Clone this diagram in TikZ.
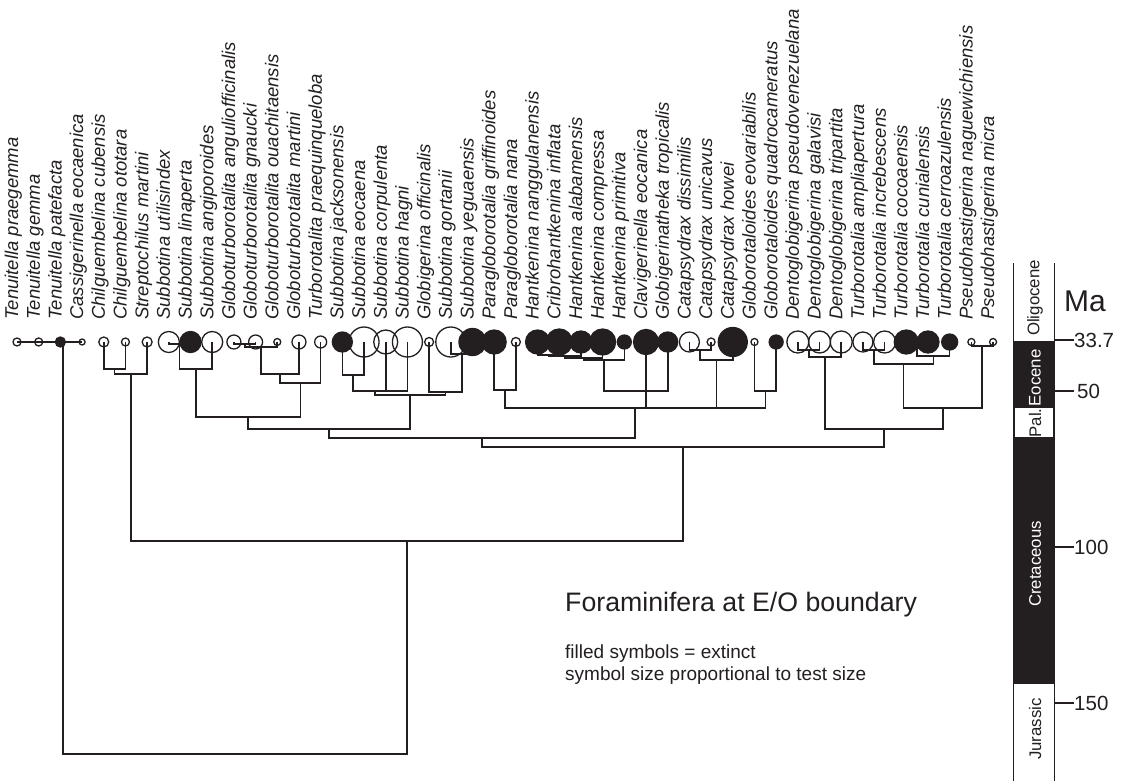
\documentclass[tikz,border=0pt]{standalone}
\usepackage{fontspec}
\setmainfont{Liberation Sans}
\definecolor{ink}{HTML}{231F20}
\begin{document}
\begin{tikzpicture}[x=1pt,y=-1pt,
  tree/.style={draw=ink,line width=1.6pt,line join=miter},
  sym/.style={circle,draw=ink,line width=1.3pt,inner sep=0pt},
  lab/.style={rotate=90,anchor=mid west,inner sep=0pt,text=ink,font=\fontsize{18.5}{20}\selectfont\itshape},
  tick/.style={draw=ink,line width=1.3pt},
  ticklab/.style={anchor=west,inner sep=0pt,text=ink,font=\fontsize{20.5}{22}\selectfont},
  era/.style={rotate=90,inner sep=0pt,font=\fontsize{16.8}{18}\selectfont},
  note/.style={anchor=west,inner sep=0pt,text=ink,font=\fontsize{19}{21}\selectfont}]
\useasboundingbox (0,0) rectangle (1132,781);
\fill[white] (0,0) rectangle (1132,781);

% species positions and labels
\foreach \nm [count=\i] in {Tenuitella praegemma,Tenuitella gemma,Tenuitella patefacta,Cassigerinella eocaenica,Chilguembelina cubensis,Chilguembelina ototara,Streptochilus martini,Subbotina utilisindex,Subbotina linaperta,Subbotina angiporoides,Globoturborotalita anguliofficinalis,Globoturborotalita gnaucki,Globoturborotalita ouachitaensis,Globoturborotalita martini,Turborotalita praequinqueloba,Subbotina jacksonensis,Subbotina eocaena,Subbotina corpulenta,Subbotina hagni,Globigerina officinalis,Subbotina gortanii,Subbotina yeguaensis,Paragloborotalia griffinoides,Paragloborotalia nana,Hantkenina nanggulanensis,Cribrohantkenina inflata,Hantkenina alabamensis,Hantkenina compressa,Hantkenina primitiva,Clavigerinella eocanica,Globigerinatheka tropicalis,Catapsydrax dissimilis,Catapsydrax unicavus,Catapsydrax howei,Globorotaloides eovariabilis,Globorotaloides quadrocameratus,Dentoglobigerina pseudovenezuelana,Dentoglobigerina galavisi,Dentoglobigerina tripartita,Turborotalia ampliapertura,Turborotalia increbescens,Turborotalia cocoaensis,Turborotalia cunialensis,Turborotalia cerroazulensis,Pseudohastigerina naguewichiensis,Pseudohastigerina micra}{
  \coordinate (s\i) at ({17+21.69*(\i-1)},342);
  \node[lab] (l\i) at ({15.5+21.69*(\i-1)},320) {\nm};
}

% tree
\coordinate (tg) at (63,342);
\draw[tree] (s1) -- (s4);
\coordinate (c1) at (114.6,369); \draw[tree] (s5) |- (c1) -| (s6);
\coordinate (c2) at (131,374);   \draw[tree] (c1) |- (c2) -| (s7);
\coordinate (a1) at (179.6,344); \draw[tree] (s8) |- (a1) -| (s9);
\coordinate (a2) at (196,369);   \draw[tree] (a1) |- (a2) -| (s10);
\coordinate (g1) at (244.8,344); \draw[tree] (s11) |- (g1) -| (s12);
\coordinate (g2) at (261,347);   \draw[tree] (g1) |- (g2) -| (s13);
\coordinate (g3) at (280,374);   \draw[tree] (g2) |- (g3) -| (s14);
\coordinate (g4) at (300.4,383); \draw[tree] (g3) |- (g4) -| (s15);
\coordinate (A) at (248.2,417);  \draw[tree] (a2) |- (A) -| (g4);
\coordinate (b1) at (353.2,375); \draw[tree] (s16) |- (b1) -| (s17);
\coordinate (b2) at (375,391);   \draw[tree] (b1) |- (b2) -| (s19); \draw[tree] (s18) -- (s18 |- b2);
\coordinate (b3a) at (461.7,354);\draw[tree] (s21) |- (b3a) -| (s22);
\coordinate (b3) at (445.4,392); \draw[tree] (s20) |- (b3) -| (b3a);
\coordinate (B) at (410.2,395);  \draw[tree] (b2) |- (B) -| (b3);
\coordinate (AB) at (329.2,429); \draw[tree] (A) |- (AB) -| (B);
\coordinate (p1) at (505,390);   \draw[tree] (s23) |- (p1) -| (s24);
\coordinate (h1) at (548.5,355); \draw[tree] (s25) |- (h1) -| (s26);
\coordinate (h2) at (564.7,356); \draw[tree] (h1) |- (h2) -| (s27);
\coordinate (h3) at (583.7,358); \draw[tree] (h2) |- (h3) -| (s28);
\coordinate (h4) at (604,360);   \draw[tree] (h3) |- (h4) -| (s29);
\coordinate (H) at (646,391);    \draw[tree] (h4) |- (H) -| (s31); \draw[tree] (s30) -- (H);
\coordinate (k1) at (700.2,350); \draw[tree] (s32) |- (k1) -| (s33);
\coordinate (k2) at (716.5,360); \draw[tree] (k1) |- (k2) -| (s34);
\coordinate (r1) at (765.4,391); \draw[tree] (s35) |- (r1) -| (s36);
\coordinate (P) at (635,408);    \draw[tree] (p1) |- (P) -| (r1); \draw[tree] (H) -- (H |- P); \draw[tree] (k2) -- (k2 |- P);
\coordinate (C) at (482.1,438);  \draw[tree] (AB) |- (C) -| (P);
\coordinate (d1) at (808.7,350); \draw[tree] (s37) |- (d1) -| (s38);
\coordinate (d2) at (825,357);   \draw[tree] (d1) |- (d2) -| (s39);
\coordinate (u1) at (873.8,350); \draw[tree] (s40) |- (u1) -| (s41);
\coordinate (u2) at (917.2,348); \draw[tree] (s42) |- (u2) -| (s43);
\coordinate (u3) at (933.4,356); \draw[tree] (u2) |- (u3) -| (s44);
\coordinate (u4) at (903.6,364); \draw[tree] (u1) |- (u4) -| (u3);
\coordinate (ps) at (982.2,346); \draw[tree] (s45) |- (ps) -| (s46);
\coordinate (u5) at (942.9,408); \draw[tree] (u4) |- (u5) -| (ps);
\coordinate (D1) at (884,429);   \draw[tree] (d2) |- (D1) -| (u5);
\coordinate (E) at (683,447);    \draw[tree] (C) |- (E) -| (D1);
\coordinate (F) at (407,541);    \draw[tree] (c2) |- (F) -| (E);
\coordinate (R) at (235,754);    \draw[tree] (tg) |- (R) -| (F);

% symbols
\foreach \r/\f [count=\i] in {4/none,4/none,5/ink,3/none,5/none,4/none,5/none,10.5/none,10.5/ink,10.5/none,7/none,7/none,3.5/none,7/none,6/none,10/ink,15/none,12/none,15/none,4.5/none,15/none,13.5/ink,12/ink,4.5/none,12/ink,13/ink,11/ink,13/ink,7/ink,12.5/ink,10/ink,10/none,4/none,14.5/ink,3.5/none,7/ink,11/none,11/none,11/none,10/none,11/none,12/ink,11/ink,8/ink,3.5/none,3.5/none}{
  \node[sym,fill=\f,minimum size={2*\r pt}] (c\i) at (s\i) {};
}

% time scale
\fill[ink] (1013,340.7) rectangle (1055,684);
\fill[white] (1014.6,408) rectangle (1053.4,437);
\draw[tick] (1013.6,263) -- (1013.6,781);
\draw[tick] (1054.4,263) -- (1054.4,781);
\node[era,text=ink] (oli) at (1035,298) {Oligocene};
\node[era,text=white] (eoc) at (1035,378) {Eocene};
\node[era,text=ink] (pal) at (1035,423) {Pal.};
\node[era,text=white] (cre) at (1035,564) {Cretaceous};
\node[era,text=ink] (jur) at (1035,729) {Jurassic};
\node[anchor=west,inner sep=0pt,text=ink,font=\fontsize{30}{32}\selectfont] (ma) at (1064,301) {Ma};
\coordinate (t1) at (1055,340); \node[ticklab] (n1) at (1074,340) {33.7}; \draw[tick] (t1) -- (n1.west);
\coordinate (t2) at (1055,391); \node[ticklab] (n2) at (1077,391) {50};   \draw[tick] (t2) -- ([xshift=-3pt]n2.west);
\coordinate (t3) at (1055,547); \node[ticklab] (n3) at (1074,547) {100};  \draw[tick] (t3) -- (n3.west);
\coordinate (t4) at (1055,703); \node[ticklab] (n4) at (1074,703) {150};  \draw[tick] (t4) -- (n4.west);

% notes
\node[anchor=west,inner sep=0pt,text=ink,font=\fontsize{26.7}{28}\selectfont] (title) at (565,605) {Foraminifera at E/O boundary};
\node[note] (note1) at (565,654) {filled symbols = extinct};
\node[note] (note2) at (565,676) {symbol size proportional to test size};
\end{tikzpicture}
\end{document}
